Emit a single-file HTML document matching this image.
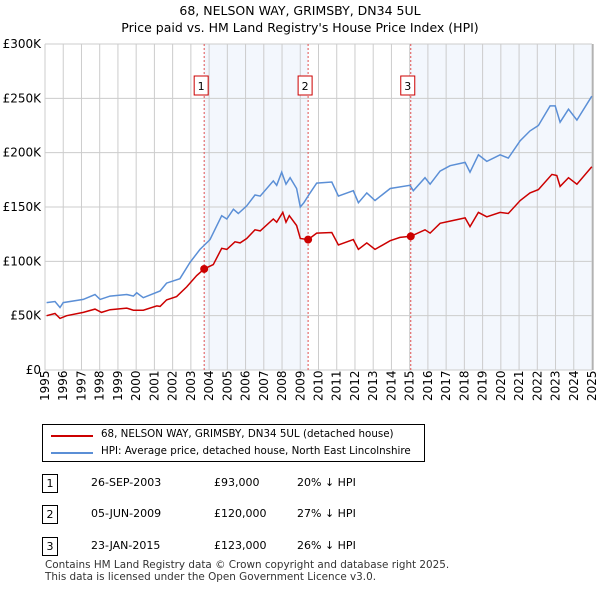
<!DOCTYPE html>
<html><head><meta charset="utf-8">
<style>
body{margin:0;background:#fff;font-family:"DejaVu Sans","Liberation Sans",sans-serif;}
#wrap{position:relative;width:600px;height:590px;overflow:hidden;}
.t{position:absolute;font-size:12px;color:#000;white-space:nowrap;}
</style></head><body>
<div id="wrap">
<svg id="chart" width="600" height="410" style="position:absolute;left:0;top:0"></svg>
<div style="position:absolute;left:42px;top:424px;width:383px;height:38px;border:1px solid #000;box-sizing:border-box;">
 <div style="position:absolute;left:8px;top:4px;height:14px;width:370px;">
  <div style="position:absolute;left:0;top:6px;width:42px;height:2px;background:#cc0000"></div>
  <span class="t" style="left:50px;top:-1px;font-size:10.3px">68, NELSON WAY, GRIMSBY, DN34 5UL (detached house)</span></div>
 <div style="position:absolute;left:8px;top:21px;height:14px;width:370px;">
  <div style="position:absolute;left:0;top:6px;width:42px;height:2px;background:#5b8fd6"></div>
  <span class="t" style="left:50px;top:-1px;font-size:10.3px">HPI: Average price, detached house, North East Lincolnshire</span></div>
</div>
<div>
 <div>
  <div class="t" style="left:42px;top:474px;width:16px;height:19px;border:1px solid #000;box-sizing:border-box;text-align:center;line-height:17px;font-size:11px">1</div>
  <span class="t" style="left:91px;top:476px;font-size:11px">26-SEP-2003</span>
  <span class="t" style="left:214px;top:476px;font-size:11px">£93,000</span>
  <span class="t" style="left:297px;top:476px;font-size:11px">20% ↓ HPI</span></div>
 <div>
  <div class="t" style="left:42px;top:505px;width:16px;height:19px;border:1px solid #000;box-sizing:border-box;text-align:center;line-height:17px;font-size:11px">2</div>
  <span class="t" style="left:91px;top:507px;font-size:11px">05-JUN-2009</span>
  <span class="t" style="left:214px;top:507px;font-size:11px">£120,000</span>
  <span class="t" style="left:297px;top:507px;font-size:11px">27% ↓ HPI</span></div>
 <div>
  <div class="t" style="left:42px;top:537px;width:16px;height:19px;border:1px solid #000;box-sizing:border-box;text-align:center;line-height:17px;font-size:11px">3</div>
  <span class="t" style="left:91px;top:539px;font-size:11px">23-JAN-2015</span>
  <span class="t" style="left:214px;top:539px;font-size:11px">£123,000</span>
  <span class="t" style="left:297px;top:539px;font-size:11px">26% ↓ HPI</span></div>
</div>
<div class="t" style="left:45px;top:559px;font-size:10.4px;color:#333;line-height:12px">Contains HM Land Registry data © Crown copyright and database right 2025.<br>This data is licensed under the Open Government Licence v3.0.</div>
</div>
<script>
const hpiYears=[1995.09,1995.55,1995.82,1996.0,1997.1,1997.74,1998.02,1998.57,1999.48,1999.85,2000.03,2000.39,2001.31,2001.67,2002.4,2002.95,2003.5,2004.05,2004.69,2004.97,2005.33,2005.6,2006.06,2006.52,2006.8,2007.52,2007.71,2007.98,2008.22,2008.44,2008.8,2009.0,2009.2,2009.54,2009.9,2010.73,2011.09,2011.91,2012.19,2012.65,2013.1,2013.93,2015.02,2015.2,2015.84,2016.12,2016.67,2017.22,2018.04,2018.31,2018.77,2019.23,2019.96,2020.41,2021.06,2021.6,2022.06,2022.7,2022.98,2023.25,2023.71,2024.17,2024.99];
const hpiValues=[62,63,57.5,62,65,69.5,65,68,69.5,68,71,66.5,72.7,80,84,99,111,120,142,139,148,144,151,161,160,174,170,182,171,177,167,150,154,163,172,173,160,165,154,163,156,167,170,165,177,171,183,188,191,182,198,192,198,195,211,220,225,243,243,228,240,230,252];
const ppYears=[1995.09,1995.55,1995.82,1996.19,1997.1,1997.74,1998.1,1998.57,1999.48,1999.85,2000.39,2001.13,2001.31,2001.67,2002.22,2002.77,2003.32,2003.73,2004.23,2004.69,2004.97,2005.42,2005.7,2006.06,2006.52,2006.8,2007.52,2007.71,2008.04,2008.22,2008.4,2008.8,2009.0,2009.43,2009.9,2010.73,2011.09,2011.91,2012.19,2012.65,2013.1,2013.93,2014.47,2015.06,2015.84,2016.12,2016.67,2017.22,2018.04,2018.31,2018.77,2019.23,2019.96,2020.41,2021.06,2021.6,2022.06,2022.8,2023.07,2023.25,2023.71,2024.17,2024.99];
const ppValues=[50,52,47.5,50,53,56,53,55.5,57,55,55,59,58.5,64.5,67.5,76.5,87,93,97,112,111,118,117,121,129,128,139,136,145,136,142,133,121,120,126,126.5,115,120,111,117,111,119,122,123,129,126,135,137,140,132,145,141,145,144,156,163,166,180,179,169,177,171,187];
const saleYears=[2003.73,2009.43,2015.06];
const saleValues=[93,120,123];
const saleLabels=["1","2","3"];
const yTicks=[0,50,100,150,200,250,300];
const yTickLabels=["£0","£50K","£100K","£150K","£200K","£250K","£300K"];
const xTicks=[1995,1996,1997,1998,1999,2000,2001,2002,2003,2004,2005,2006,2007,2008,2009,2010,2011,2012,2013,2014,2015,2016,2017,2018,2019,2020,2021,2022,2023,2024,2025];

const L=45,R=592,T=44,B=370,X0=1995,X1=2025,YMAX=300;
const xs=y=>L+(y-X0)/(X1-X0)*(R-L);
const ys=v=>B-v/YMAX*(B-T);
const NS="http://www.w3.org/2000/svg";
const svg=document.getElementById('chart');
function mk(tag,at,parent){const e=document.createElementNS(NS,tag);for(const k in at)e.setAttribute(k,at[k]);(parent||svg).appendChild(e);return e;}

let e;
e=mk('text',{x:300,y:15,'text-anchor':'middle','font-size':'12.5'});e.textContent="68, NELSON WAY, GRIMSBY, DN34 5UL";


e=mk('text',{x:300,y:32,'text-anchor':'middle','font-size':'12.5'});e.textContent="Price paid vs. HM Land Registry's House Price Index (HPI)";



e=mk('rect',{x:xs(saleYears[0]),y:T,width:xs(saleYears[1])-xs(saleYears[0]),height:B-T,fill:'#eef3fc',opacity:0.7});


e=mk('rect',{x:xs(saleYears[2]),y:T,width:R-xs(saleYears[2]),height:B-T,fill:'#eef3fc',opacity:0.7});



xTicks.forEach((yr,i)=>{
 e=mk('line',{x1:xs(yr),x2:xs(yr),y1:T,y2:B,stroke:'#cccccc','stroke-width':1});
 
 
 const tx=xs(yr)+4;
 e=mk('text',{x:0,y:0,transform:`translate(${tx},${B+31}) rotate(-90)`,'font-size':'12'});e.textContent=String(yr);
 
 
});
yTicks.forEach((v,i)=>{
 e=mk('line',{x1:L,x2:R,y1:ys(v),y2:ys(v),stroke:'#cccccc','stroke-width':1});
 
 
 e=mk('text',{x:L-4,y:ys(v)+4,'text-anchor':'end','font-size':'12'});e.textContent=yTickLabels[i];
 
 
});
e=mk('line',{x1:R+1,x2:R+1,y1:T,y2:B,stroke:'#999','stroke-width':1});



saleYears.forEach((yr,i)=>{
 e=mk('line',{x1:xs(yr),x2:xs(yr),y1:T,y2:B,stroke:'#e05050','stroke-width':1,'stroke-dasharray':'2,2'});
 
 
 const g=mk('g',{});
 
 
 mk('rect',{x:xs(yr)-10,y:76,width:14,height:19,fill:'#fff',stroke:'#cc0000','stroke-width':1},g);
 const tt=mk('text',{x:xs(yr)-3,y:90,'text-anchor':'middle','font-size':'11'},g);tt.textContent=saleLabels[i];
});

function pathOf(xa,va){return xa.map((y,i)=>(i?'L':'M')+xs(y).toFixed(1)+','+ys(va[i]).toFixed(1)).join('');}
e=mk('path',{d:pathOf(hpiYears,hpiValues),fill:'none',stroke:'#5b8fd6','stroke-width':1.5});


e=mk('path',{d:pathOf(ppYears,ppValues),fill:'none',stroke:'#cc0000','stroke-width':1.5});


saleYears.forEach((yr,i)=>{
 e=mk('circle',{cx:xs(yr),cy:ys(saleValues[i]),r:4,fill:'#cc0000'});
 
 
});
</script>
</body></html>
